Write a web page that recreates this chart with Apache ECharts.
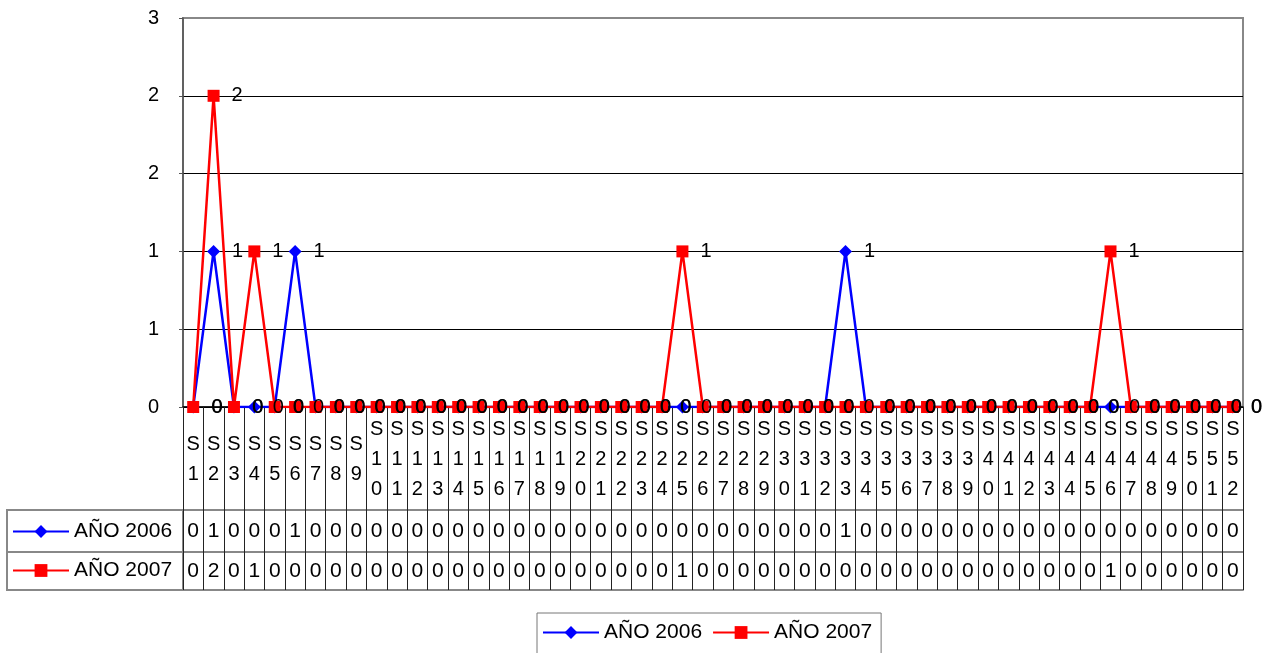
<!DOCTYPE html>
<html><head><meta charset="utf-8">
<script src="https://cdn.jsdelivr.net/npm/echarts@6/dist/echarts.min.js"></script>
<style>html,body{margin:0;padding:0;background:#fff}#c{width:1263px;height:653px}</style>
</head><body><div id="c"></div>
<script>
const categories = ['S1','S2','S3','S4','S5','S6','S7','S8','S9','S10','S11','S12','S13','S14','S15','S16','S17','S18','S19','S20','S21','S22','S23','S24','S25','S26','S27','S28','S29','S30','S31','S32','S33','S34','S35','S36','S37','S38','S39','S40','S41','S42','S43','S44','S45','S46','S47','S48','S49','S50','S51','S52'];
const seriesNames = ['AÑO 2006','AÑO 2007'];
const data2006 = [0,1,0,0,0,1,0,0,0,0,0,0,0,0,0,0,0,0,0,0,0,0,0,0,0,0,0,0,0,0,0,0,1,0,0,0,0,0,0,0,0,0,0,0,0,0,0,0,0,0,0,0];
const data2007 = [0,2,0,1,0,0,0,0,0,0,0,0,0,0,0,0,0,0,0,0,0,0,0,0,1,0,0,0,0,0,0,0,0,0,0,0,0,0,0,0,0,0,0,0,0,1,0,0,0,0,0,0];
const yMin = 0, yMax = 2.5, yStep = 0.5;

const FONT = 'Liberation Sans, Arial, sans-serif';
const chart = echarts.init(document.getElementById('c'));
const GL = 183, GR = 20, GT = 18, GB = 246;
const hColor = '#888';
const vColor = '#222';

function tableAxis(offset, values, margin) {
  return {
    type: 'category', gridIndex: 0, position: 'bottom', offset: offset,
    data: categories, boundaryGap: true,
    axisLine: { show: true, lineStyle: { color: hColor, width: 2 } },
    axisTick: { show: false },
    axisLabel: values ? {
      show: true, interval: 0, margin: margin, verticalAlign: 'middle',
      fontFamily: FONT, fontSize: 21, color: '#000',
      formatter: (v, i) => String(values[i])
    } : { show: false },
    splitLine: { show: false }
  };
}

const legendCommon = {
  selectedMode: false, itemWidth: 56, itemHeight: 16, padding: 0,
  textStyle: { fontFamily: FONT, fontSize: 21, color: '#000' }
};

chart.setOption({
  animation: false,
  backgroundColor: '#fff',
  grid: { left: GL, right: GR, top: GT, bottom: GB, show: true, borderColor: '#888', borderWidth: 2, backgroundColor: 'transparent' },
  legend: [
    Object.assign({}, legendCommon, { data: [seriesNames[0]], left: 12, top: 521 }),
    Object.assign({}, legendCommon, { data: [seriesNames[1]], left: 12, top: 560 }),
    Object.assign({}, legendCommon, { data: seriesNames, left: 537, top: 613, itemGap: 10,
      padding: [9, 9, 12, 5], borderColor: '#777', borderWidth: 1 })
  ],
  xAxis: [
    {
      type: 'category', data: categories, boundaryGap: true,
      axisLine: { show: true, lineStyle: { color: '#000', width: 1.5 } },
      axisTick: { show: true, interval: 0, length: 183, lineStyle: { color: vColor, width: 1 } },
      axisLabel: {
        interval: 0, margin: 52, verticalAlign: 'middle', lineHeight: 30,
        fontFamily: FONT, fontSize: 20, color: '#000',
        formatter: v => v.split('').join('\n')
      },
      splitLine: { show: false }
    },
    tableAxis(103, data2006, 21),
    tableAxis(145, data2007, 19),
    tableAxis(183, null, 0)
  ],
  yAxis: {
    type: 'value', min: yMin, max: yMax, interval: yStep,
    axisLine: { show: true, lineStyle: { color: '#555', width: 1.5 } },
    axisTick: { show: true, length: 4, lineStyle: { color: '#555' } },
    axisLabel: { margin: 24, fontFamily: FONT, fontSize: 20, color: '#000',
      formatter: v => String(Math.round(v)) },
    splitLine: { show: true, lineStyle: { color: ['#000','#000','#000','#000','#000','transparent'], width: 1 } }
  },
  graphic: [
    { type: 'rect', silent: true, shape: { x: 7, y: 510, width: GL - 7, height: 80 },
      style: { fill: 'none', stroke: hColor, lineWidth: 2 } },
    { type: 'line', silent: true, shape: { x1: 7, y1: 552, x2: GL, y2: 552 },
      style: { stroke: hColor, lineWidth: 2 } }
  ],
  series: [
    {
      name: seriesNames[0], type: 'line', data: data2006,
      symbol: 'diamond', symbolSize: 13,
      lineStyle: { color: '#0000FF', width: 2.5 }, itemStyle: { color: '#0000FF' },
      label: { show: true, position: 'right', distance: 12, fontFamily: FONT, fontSize: 20, color: '#000' }
    },
    {
      name: seriesNames[1], type: 'line', data: data2007,
      symbol: 'rect', symbolSize: 12,
      lineStyle: { color: '#FF0000', width: 2.5 }, itemStyle: { color: '#FF0000' },
      label: { show: true, position: 'right', distance: 12, fontFamily: FONT, fontSize: 20, color: '#000' }
    }
  ]
});
</script></body></html>
